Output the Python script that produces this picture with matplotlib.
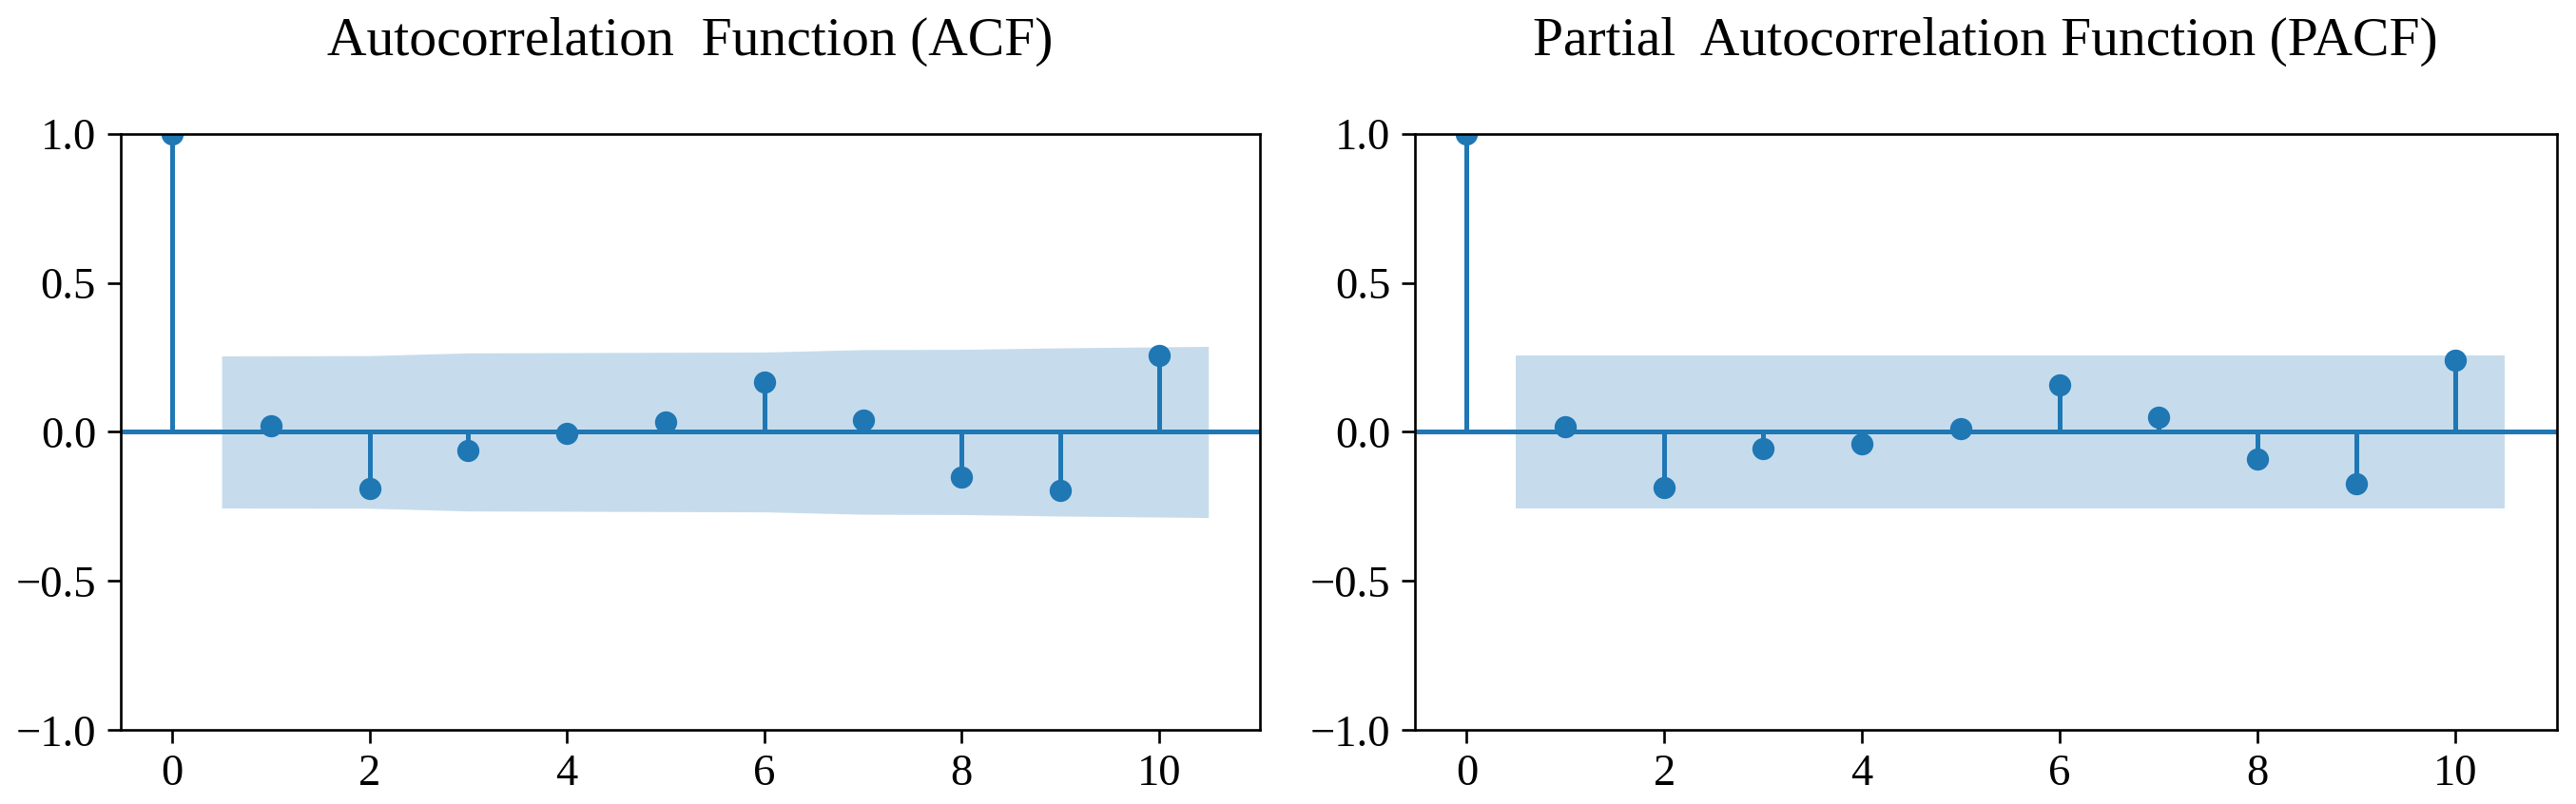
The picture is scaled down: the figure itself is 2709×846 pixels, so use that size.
import numpy as np
import matplotlib
matplotlib.use("Agg")
import matplotlib.pyplot as plt

plt.rcParams['font.family'] = ['Liberation Serif', 'DejaVu Serif']

# ---- data ----
lags = [0, 1, 2, 3, 4, 5, 6, 7, 8, 9, 10]
acf_vals = [1.0, 0.020, -0.189, -0.063, -0.004, 0.033, 0.166, 0.041, -0.152, -0.195, 0.256]
pacf_vals = [1.0, 0.019, -0.188, -0.056, -0.040, 0.012, 0.159, 0.049, -0.092, -0.174, 0.241]
# half-width of the 95% confidence band for lags 1..10
acf_band = [0.255, 0.256, 0.265, 0.266, 0.267, 0.268, 0.276, 0.277, 0.282, 0.287]
pacf_band = [0.255, 0.255, 0.255, 0.255, 0.255, 0.255, 0.255, 0.255, 0.255, 0.255]
titles = ["Autocorrelation  Function (ACF)", "Partial  Autocorrelation Function (PACF)"]
yticks = [-1.0, -0.5, 0.0, 0.5, 1.0]
xticks = [0, 2, 4, 6, 8, 10]

W, H, DPI = 2709, 846, 240
fig = plt.figure(figsize=(W / DPI, H / DPI), dpi=DPI)

boxes = [
    [126.7 / W, 1 - 768.3 / H, 1198.5 / W, 627.6 / H],
    [1487.8 / W, 1 - 768.3 / H, 1200.8 / W, 627.6 / H],
]

C0 = '#1f77b4'

def corr_plot(ax, vals, band, title):
    x = np.asarray(lags, dtype=float)
    y = np.asarray(vals, dtype=float)
    ax.vlines(x, [0], y, colors=C0, linewidth=1.5)
    ax.axhline(0, color=C0, linewidth=1.5)
    ax.plot(x, y, marker='o', markersize=6, linestyle='None', color=C0)
    bx = x[1:].copy()
    bx[0] -= 0.5
    bx[-1] += 0.5
    b = np.asarray(band)
    ax.fill_between(bx, -b, b, alpha=0.25, color=C0, linewidth=0)
    ax.set_ylim(-1, 1)
    ax.set_xlim(-0.525, 11.025)
    ax.set_yticks(yticks)
    ax.set_xticks(xticks)
    ax.tick_params(labelsize=14, length=4.2, width=0.8)
    ax.set_title(title, fontsize=17.3, pad=25)

for box, vals, band, title in zip(boxes, [acf_vals, pacf_vals], [acf_band, pacf_band], titles):
    ax = fig.add_axes(box)
    corr_plot(ax, vals, band, title)

fig.savefig("out.png", dpi=DPI)
